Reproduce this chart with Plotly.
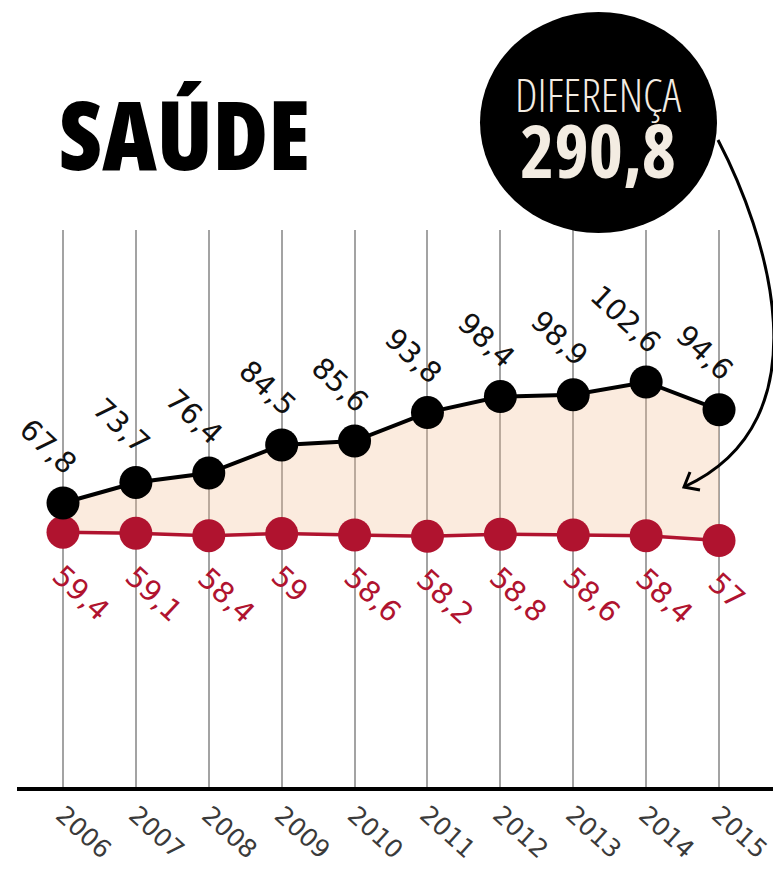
import plotly.graph_objects as go

# ---- data ----
years = [2006, 2007, 2008, 2009, 2010, 2011, 2012, 2013, 2014, 2015]
serie_preta = [67.8, 73.7, 76.4, 84.5, 85.6, 93.8, 98.4, 98.9, 102.6, 94.6]
serie_vermelha = [59.4, 59.1, 58.4, 59.0, 58.6, 58.2, 58.8, 58.6, 58.4, 57.0]
rotulos_preta = ["67,8", "73,7", "76,4", "84,5", "85,6", "93,8", "98,4", "98,9", "102,6", "94,6"]
rotulos_vermelha = ["59,4", "59,1", "58,4", "59", "58,6", "58,2", "58,8", "58,6", "58,4", "57"]
titulo = "SAÚDE"
dif_titulo = "DIFERENÇA"
dif_valor = "290,8"

# ---- layout geometry ----
# the page body has an 8px margin, so the figure is placed at (8, 8) in the window
OFF = 8
W, H = 781 - OFF, 869 - OFF
ML, MR, MT, MB = 17 - OFF, 0, 230 - OFF, 82
PW, PH = W - ML - MR, H - MT - MB

def px(x):  # window pixel x -> paper
    return (x - OFF - ML) / PW

def py(y):  # window pixel y -> paper
    return (H - MB - (y - OFF)) / PH

RED = "#B0132F"
BLACK = "#000000"

fig = go.Figure()
fig.add_trace(go.Scatter(x=years, y=serie_vermelha, mode="lines",
                         line=dict(color=RED, width=3.5), hoverinfo="skip", showlegend=False))
fig.add_trace(go.Scatter(x=years, y=serie_preta, mode="lines", fill="tonexty",
                         fillcolor="rgba(243,190,145,0.30)",
                         line=dict(color=BLACK, width=4), hoverinfo="skip", showlegend=False))
fig.add_trace(go.Scatter(x=years, y=serie_vermelha, mode="markers",
                         marker=dict(color=RED, size=33), showlegend=False))
fig.add_trace(go.Scatter(x=years, y=serie_preta, mode="markers",
                         marker=dict(color=BLACK, size=33), showlegend=False))

ann = []
VAL_FONT = "DejaVu Sans, Verdana, sans-serif"
for x, v, t in zip(years, serie_preta, rotulos_preta):
    ann.append(dict(x=x, y=v, xref="x", yref="y", text=t, showarrow=False,
                    textangle=43, xanchor="right", yanchor="bottom",
                    xshift=24, yshift=19,
                    font=dict(family=VAL_FONT, size=29, color="#111111")))
for x, v, t in zip(years, serie_vermelha, rotulos_vermelha):
    ann.append(dict(x=x, y=v, xref="x", yref="y", text=t, showarrow=False,
                    textangle=43, xanchor="left", yanchor="top",
                    xshift=-20, yshift=-23,
                    font=dict(family=VAL_FONT, size=29, color=RED)))
for x in years:
    ann.append(dict(x=x, y=0, xref="x", yref="paper", text=str(x), showarrow=False,
                    textangle=42, xanchor="center", yanchor="middle",
                    xshift=21, yshift=-45,
                    font=dict(family="DejaVu Sans, Verdana, sans-serif", size=25, color="#3a3a3a")))

COND = "Open Sans, DejaVu Sans Condensed, sans-serif"
ann.append(dict(x=px(57), y=py(133), xref="paper", yref="paper",
                text='<span style="font-stretch:75%;font-weight:800">' + titulo + '</span>',
                showarrow=False, xanchor="left", yanchor="middle",
                font=dict(family=COND, size=95, color="#000000")))
ann.append(dict(x=px(598), y=py(131), xref="paper", yref="paper",
                text=('<span style="font-size:46px;font-stretch:87.5%;font-weight:300">' + dif_titulo
                      + '</span><br><span style="font-size:73px;font-stretch:87.5%;font-weight:700">'
                      + dif_valor + '</span>'),
                showarrow=False, xanchor="center", yanchor="middle", align="center",
                font=dict(family=COND, size=51, color="#F3ECE2")))

def P(x, y):
    return f"{px(x):.5f},{py(y):.5f}"

shapes = [
    dict(type="circle", xref="paper", yref="paper",
         x0=px(480), x1=px(717), y0=py(233), y1=py(12),
         fillcolor="#000000", line=dict(width=0), layer="above"),
    dict(type="path", xref="paper", yref="paper",
         path=f"M {P(718,140)} C {P(765,230)} {P(830,420)} {P(684,487)}",
         line=dict(color="#000000", width=3), layer="above"),
    dict(type="path", xref="paper", yref="paper",
         path=f"M {P(690,472)} L {P(684,487)} L {P(700,490)}",
         line=dict(color="#000000", width=3), layer="above"),
]

fig.update_layout(
    width=W, height=H,
    margin=dict(l=ML, r=MR, t=MT, b=MB, pad=0),
    paper_bgcolor="white", plot_bgcolor="white",
    annotations=ann, shapes=shapes,
    xaxis=dict(range=[2005.369, 2015.85], tickvals=years, showticklabels=False,
               ticks="", showgrid=True, gridcolor="#a3a3a3", gridwidth=1.5,
               zeroline=False, showline=True, linecolor="#000000", linewidth=4),
    yaxis=dict(range=[-13.88, 146.3], visible=False, showgrid=False, zeroline=False),
)

fig.write_html("out.html")
